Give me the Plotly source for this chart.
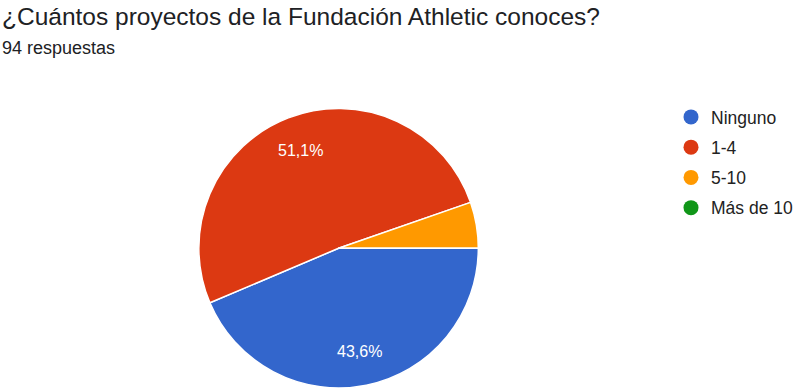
import math
import plotly.graph_objects as go

categories = ["Ninguno", "1-4", "5-10", "Más de 10"]
counts = [41, 48, 5, 0]
colors = ["#3366cc", "#dc3912", "#ff9900", "#109618"]
title = "¿Cuántos proyectos de la Fundación Athletic conoces?"
subtitle = "94 respuestas"

W, H = 798, 388
cx, cy, R = 339, 248.5, 140  # pie centre / radius in pixels (layout)

total = sum(counts)
fig = go.Figure()
fig.add_trace(go.Pie(
    labels=categories, values=counts,
    textinfo="none",
    marker=dict(colors=colors, line=dict(color="white", width=1.5)),
    sort=False, direction="clockwise", rotation=90,
    showlegend=False, hoverinfo="label+percent",
    domain=dict(x=[(cx - R)/W, (cx + R)/W], y=[0, (H - (cy - R))/H]),
))
for i, (cat, col) in enumerate(zip(categories, colors)):
    fig.add_trace(go.Scatter(
        x=[None], y=[None], mode="markers", name=cat,
        marker=dict(color=col, size=15, symbol="circle"),
        legendgroup=f"g{i}", showlegend=True,
    ))

# slice labels placed at 0.75 R along each slice's mid-angle (clockwise from 3 o'clock)
annotations = []
start = 0.0
for c in counts:
    frac = c / total
    mid = (start + frac / 2) * 2 * math.pi
    start += frac
    p = 100 * frac
    if p < 10:
        continue
    px = cx + 0.75 * R * math.cos(mid)
    py = cy + 0.75 * R * math.sin(mid)
    annotations.append(dict(
        text=f"{p:.1f}%".replace(".", ","), x=px / W, y=1 - py / H,
        xref="paper", yref="paper", showarrow=False,
        xanchor="center", yanchor="middle",
        font=dict(size=16, color="white", family="Liberation Sans, Arial")))

annotations += [
    dict(text=title, x=0, y=1 - 0.5/H, xref="paper", yref="paper",
         xanchor="left", yanchor="top", showarrow=False,
         font=dict(size=24.5, color="#202124", family="Liberation Sans, Arial")),
    dict(text=subtitle, x=0, y=1 - 36/H, xref="paper", yref="paper",
         xanchor="left", yanchor="top", showarrow=False,
         font=dict(size=18, color="#202124", family="Liberation Sans, Arial")),
]

fig.update_layout(
    width=W, height=H,
    margin=dict(l=0, r=0, t=0, b=0),
    paper_bgcolor="white", plot_bgcolor="white",
    xaxis=dict(visible=False), yaxis=dict(visible=False),
    legend=dict(x=672/W, y=1 - 99/H, xanchor="left", yanchor="top",
                font=dict(size=17.5, color="#222222", family="Liberation Sans, Arial"),
                tracegroupgap=4.5, itemsizing="trace"),
    annotations=annotations,
)
fig.write_html("out.html")
